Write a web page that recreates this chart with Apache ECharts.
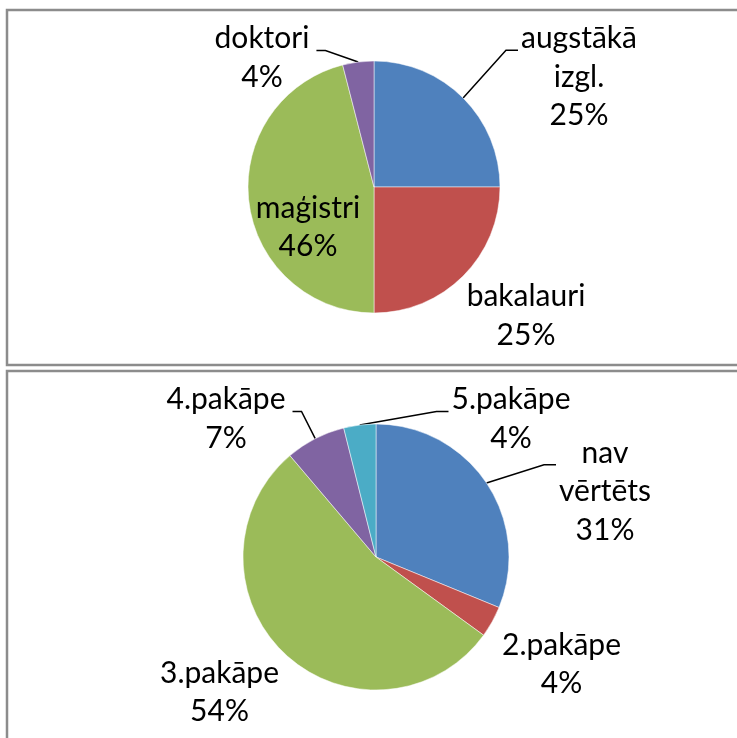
<!DOCTYPE html>
<html>
<head>
<meta charset="utf-8">
<script src="https://cdn.jsdelivr.net/npm/echarts@6/dist/echarts.min.js"></script>
<style>
html,body{margin:0;padding:0;background:#fff;}
#chart{width:737px;height:738px;}
</style>
</head>
<body>
<div id="chart"></div>
<script>
// ---- data ----
const topCategories = ['augstākā izgl.', 'bakalauri', 'maģistri', 'doktori'];
const topValues = [25, 25, 46, 4];
const bottomCategories = ['nav vērtēts', '2.pakāpe', '3.pakāpe', '4.pakāpe', '5.pakāpe'];
const bottomValues = [31.2, 3.8, 53.8, 7.3, 3.9];

// ---- styles / layout ----
const topColors = ['#4F81BD', '#C0504D', '#9BBB59', '#8064A2'];
const bottomColors = ['#4F81BD', '#C0504D', '#9BBB59', '#8064A2', '#4BACC6'];
const FONT = 30, LH = 38.5;
const topLabelPos = [
  {x: 579, y: 77, side: 'right'},
  {x: 526, y: 316, side: null},
  {x: 308, y: 227.5, side: null},
  {x: 262, y: 58, side: 'left'}
];
const bottomLabelPos = [
  {x: 605, y: 491.5, side: 'right'},
  {x: 561.5, y: 664.5, side: null},
  {x: 219.5, y: 692.5, side: null},
  {x: 226, y: 419, side: 'left'},
  {x: 511, y: 419, side: 'right'}
];

function makeData(names, values, colors, pos) {
  return names.map((n, i) => ({
    name: n, value: values[i],
    itemStyle: {color: colors[i]},
    labelLine: {show: !!pos[i].side}
  }));
}

function makeLayout(pos) {
  return function (params) {
    const p = pos[params.dataIndex];
    const w = params.labelRect.width, h = params.labelRect.height;
    const res = {x: p.x, y: p.y, align: 'center', verticalAlign: 'middle'};
    if (p.side && params.labelLinePoints) {
      const nLines = Math.round(h / LH) || 1;
      const top = p.y - nLines * LH / 2;
      const ly = top + LH / 2 + 0.39 * FONT;
      const start = params.labelLinePoints[0];
      let endX, elbowX;
      if (p.side === 'right') { endX = p.x - w / 2 - 3; elbowX = endX - 12; }
      else { endX = p.x + w / 2 + 7; elbowX = endX + 9; }
      res.labelLinePoints = [[start[0], start[1]], [elbowX, ly], [endX, ly]];
    }
    return res;
  };
}

const labelCfg = {
  show: true,
  position: 'outside',
  color: '#000',
  fontFamily: 'Lato',
  fontSize: FONT,
  lineHeight: LH,
  align: 'center',
  formatter: p => p.name.replace(' ', '\n') + '\n' + Math.round(p.percent) + '%'
};
const lineCfg = {show: true, length: 10, length2: 10, lineStyle: {color: '#000', width: 1.5}};

const chart = echarts.init(document.getElementById('chart'), null, {renderer: 'canvas'});
chart.setOption({
  backgroundColor: '#fff',
  animation: false,
  graphic: [
    {type: 'rect', shape: {x: 7, y: 10, width: 740, height: 355}, style: {fill: 'none', stroke: '#8c8c8c', lineWidth: 2.5}, z: -1},
    {type: 'rect', shape: {x: 7, y: 371, width: 740, height: 380}, style: {fill: 'none', stroke: '#8c8c8c', lineWidth: 2.5}, z: -1}
  ],
  series: [
    {
      type: 'pie', center: [374, 187], radius: 126, startAngle: 90, clockwise: true,
      avoidLabelOverlap: false,
      itemStyle: {borderColor: '#fff', borderWidth: 0.5},
      label: labelCfg, labelLine: lineCfg,
      labelLayout: makeLayout(topLabelPos),
      data: makeData(topCategories, topValues, topColors, topLabelPos)
    },
    {
      type: 'pie', center: [376, 557], radius: 133, startAngle: 90, clockwise: true,
      avoidLabelOverlap: false,
      itemStyle: {borderColor: '#fff', borderWidth: 0.5},
      label: labelCfg, labelLine: lineCfg,
      labelLayout: makeLayout(bottomLabelPos),
      data: makeData(bottomCategories, bottomValues, bottomColors, bottomLabelPos)
    }
  ]
});
</script>
</body>
</html>
